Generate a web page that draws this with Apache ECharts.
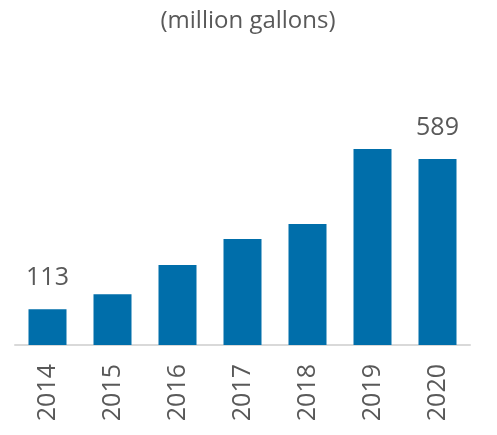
<!DOCTYPE html>
<html>
<head>
<meta charset="utf-8">
<script src="https://cdn.jsdelivr.net/npm/echarts@6/dist/echarts.min.js"></script>
<style>html,body{margin:0;padding:0;background:#fff}#c{width:497px;height:435px}</style>
</head>
<body>
<div id="c"></div>
<script>
const categories = ['2014', '2015', '2016', '2017', '2018', '2019', '2020'];
const values = [113, 161, 253, 336, 383, 621, 589];
const labeledYears = ['2014', '2020'];
const titleText = '(million gallons)';

const chart = echarts.init(document.getElementById('c'), null, {renderer: 'canvas'});
const font = '"Open Sans", "Noto Sans", sans-serif';
chart.setOption({
  animation: false,
  backgroundColor: '#ffffff',
  title: {
    text: titleText,
    left: 243,
    top: 4,
    textAlign: 'center',
    textStyle: {fontFamily: font, fontSize: 24, fontWeight: 'normal', color: '#595959'}
  },
  grid: {left: 15, right: 27, top: 124, bottom: 90, containLabel: false},
  xAxis: {
    type: 'category',
    data: categories,
    axisLine: {show: true, lineStyle: {color: '#d9d9d9', width: 2}},
    axisTick: {show: false},
    axisLabel: {rotate: 90, margin: 19, fontFamily: font, fontSize: 25, color: '#595959'}
  },
  yAxis: {
    type: 'value', min: 0, max: 700,
    show: false,
    splitLine: {show: false}
  },
  series: [{
    type: 'bar',
    barWidth: 38,
    itemStyle: {color: '#006EAA'},
    data: values.map((v, i) => ({
      value: v,
      label: {show: labeledYears.includes(categories[i])}
    })),
    label: {
      position: 'top', distance: 19,
      fontFamily: font, fontSize: 25, color: '#595959'
    }
  }]
});
</script>
</body>
</html>
